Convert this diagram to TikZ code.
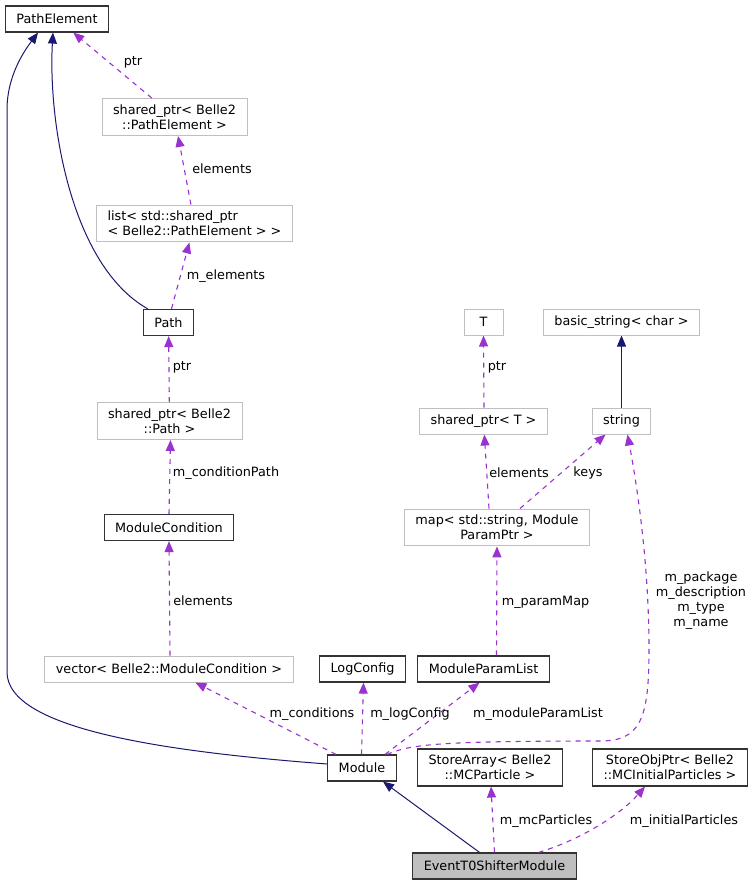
\documentclass[tikz,border=0pt]{standalone}
\usepackage{fontspec}
\setmainfont{DejaVu Sans}
\usetikzlibrary{arrows.meta}
\definecolor{inhcol}{HTML}{191970}
\definecolor{usecol}{HTML}{9A32CD}
\definecolor{boxgray}{HTML}{BFBFBF}
\definecolor{boxdark}{HTML}{333333}
\tikzset{
  cls/.style={draw=boxdark, line width=1.2pt, inner xsep=11pt, inner ysep=6pt,
    minimum height=26pt, font=\fontsize{12.8}{15}\selectfont, align=center},
  ext/.style={cls, draw=boxgray, line width=1pt},
  inh/.style={color=inhcol, line width=1pt, -{Triangle[length=11pt,width=9pt]}},
  use/.style={color=usecol, line width=1.1pt, dash pattern=on 5pt off 5pt,
    -{Triangle[length=11pt,width=9pt]}},
  lbl/.style={font=\fontsize{12.8}{15}\selectfont, inner sep=0pt, align=center}
}
\begin{document}
\begin{tikzpicture}[x=1pt,y=-1pt]
  \useasboundingbox (0,0) rectangle (755,885);
  \node[cls] (pathelem) at (57,19) {PathElement};
  \node[ext] (sppathelem) at (174.5,117) {shared\_ptr< Belle2\\::PathElement >};
  \node[ext,align=left] (pelist) at (194.5,223.5) {list< std::shared\_ptr\\< Belle2::PathElement > >};
  \node[cls] (path) at (168.5,322.5) {Path};
  \node[ext] (sppath) at (169.5,421) {shared\_ptr< Belle2\\::Path >};
  \node[cls] (modcond) at (169,527.5) {ModuleCondition};
  \node[ext] (condvec) at (169,669) {vector< Belle2::ModuleCondition >};
  \node[cls] (logcfg) at (362.5,669) {LogConfig};
  \node[cls] (module) at (362,768) {Module};
  \node[cls] (paramlist) at (483.5,669) {ModuleParamList};
  \node[ext] (parammap) at (497,527.5) {map< std::string, Module\\ParamPtr >};
  \node[ext] (spt) at (483.5,421) {shared\_ptr< T >};
  \node[ext,minimum width=39pt] (tnode) at (483.5,322) {T};
  \node[ext] (basicstr) at (621.5,322) {basic\_string< char >};
  \node[ext] (string) at (621.5,421) {string};
  \node[cls] (storearr) at (490,767.5) {StoreArray< Belle2\\::MCParticle >};
  \node[cls] (storeobj) at (670,767.5) {StoreObjPtr< Belle2\\::MCInitialParticles >};
  \node[cls,fill=boxgray] (shifter) at (494.5,866) {EventT0ShifterModule};

  \draw[inh] ([xshift=5pt]path.north west) .. controls (70,265) and (48,120) .. ([xshift=-4pt]pathelem.south);
  \draw[inh] ([yshift=4pt]module.west) .. controls (170,752) and (7,730) .. (7,672)
    -- (7,110) .. controls (7,75) and (25,50) .. ([xshift=-19pt]pathelem.south);
  \draw[inh] (string) -- (basicstr);
  \draw[inh] ([xshift=-15pt]shifter.north) -- ([xshift=21pt]module.south);

  \draw[use] (sppathelem) -- (pathelem);
  \draw[use] (pelist) -- (sppathelem);
  \draw[use] ([xshift=3pt]path.north) -- (pelist);
  \draw[use] (sppath) -- (path);
  \draw[use] (modcond.north) -- ([xshift=1pt]sppath.south);
  \draw[use] ([xshift=1pt]condvec.north) -- (modcond.south);
  \draw[use] ([xshift=-26pt]module.north) -- (condvec);
  \draw[use] ([xshift=-0.5pt]module.north) -- ([xshift=1pt]logcfg.south);
  \draw[use] ([xshift=23pt]module.north) -- ([xshift=-4pt]paramlist.south);
  \draw[use] ([xshift=13pt]paramlist.north) -- (parammap.south);
  \draw[use] ([xshift=-8pt]parammap.north) -- (spt);
  \draw[use] ([xshift=23pt]parammap.north) -- ([xshift=-16pt]string.south);
  \draw[use] ([xshift=0.5pt]spt.north) -- (tnode.south);
  \draw[use] ([xshift=25pt]module.north) .. controls (410,745) and (430,741) .. (600,741)
    .. controls (640,741) and (649,720) .. (649,650)
    .. controls (649,560) and (636,480) .. ([xshift=6pt]string.south);
  \draw[use] (shifter.north) -- (storearr);
  \draw[use] ([xshift=44pt]shifter.north) .. controls (580,840) and (620,815) .. ([xshift=-25pt]storeobj.south);

  \node[lbl] (lptr1) at (133,62) {ptr};
  \node[lbl] (lelem1) at (222,169) {elements};
  \node[lbl] (lmelem) at (226,276) {m\_elements};
  \node[lbl] (lptr2) at (182,367) {ptr};
  \node[lbl] (lcondpath) at (226,473) {m\_conditionPath};
  \node[lbl] (lelem2) at (203,601) {elements};
  \node[lbl] (lconds) at (312,714) {m\_conditions};
  \node[lbl] (llogcfg) at (410,714) {m\_logConfig};
  \node[lbl] (lparamlist) at (538,714) {m\_moduleParamList};
  \node[lbl] (lparammap) at (545.5,602) {m\_paramMap};
  \node[lbl] (lelem3) at (519,473) {elements};
  \node[lbl] (lkeys) at (588,473) {keys};
  \node[lbl] (lptr3) at (497,367) {ptr};
  \node[lbl] (lstrings) at (701,601) {m\_package\\m\_description\\m\_type\\m\_name};
  \node[lbl] (lmcpart) at (546,821) {m\_mcParticles};
  \node[lbl] (linitpart) at (684,821) {m\_initialParticles};
\end{tikzpicture}
\end{document}
